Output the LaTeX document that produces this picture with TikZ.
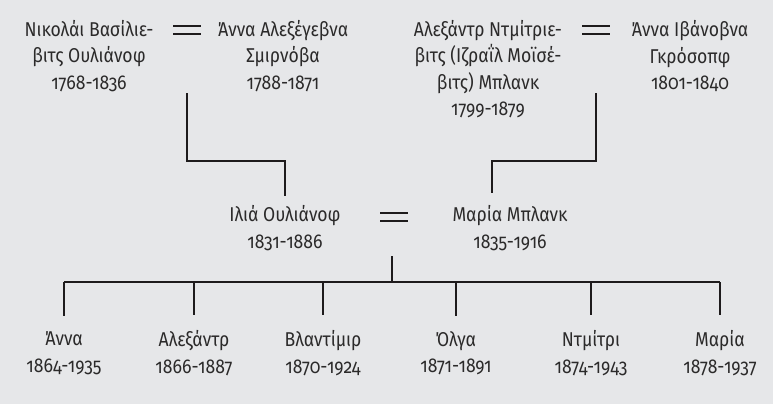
\documentclass[tikz,border=0pt]{standalone}
\usepackage{fontspec}
\setmainfont{Fira Sans}[Numbers=OldStyle, FakeStretch=0.88]
\usetikzlibrary{positioning}
\definecolor{paper}{HTML}{E6E7E9}
\definecolor{ink}{HTML}{2B2A2A}
\definecolor{rule}{HTML}{1E1B1C}

\begin{document}
\begin{tikzpicture}[x=1pt, y=-1pt]
  \tikzstyle{person}=[align=center, text=ink, inner sep=3pt,
    font=\fontsize{20}{26.5}\selectfont]
  \tikzstyle{wed}=[minimum width=27pt, minimum height=8pt, inner sep=0pt]
  \tikzstyle{line}=[draw=rule, line width=2.4pt]

  \fill[paper] (0,0) rectangle (773,404);
  \useasboundingbox (0,0) rectangle (773,404);

  % grandparents
  \node[person] (nik) at (89,56)  {Νικολάι Βασίλιε-\\βιτς Ουλιάνοφ\\1768-1836};
  \node[person] (smi) at (283,56) {Άννα Αλεξέγεβνα\\Σμιρνόβα\\1788-1871};
  \node[person] (bla) at (488,69) {Αλεξάντρ Ντμίτριε-\\βιτς (Ιζραΐλ Μοϊσέ-\\βιτς) Μπλανκ\\1799-1879};
  \node[person] (gro) at (690,56) {Άννα Ιβάνοβνα\\Γκρόσοπφ\\1801-1840};
  \node[wed] (w1) at (187,30) {};
  \node[wed] (w2) at (596,30) {};

  % parents
  \node[person] (ili) at (285,228) {Ιλιά Ουλιάνοφ\\1831-1886};
  \node[person] (mar) at (510,228) {Μαρία Μπλανκ\\1835-1916};
  \node[wed] (w3) at (394,217) {};

  % children
  \node[person] (c1) at (64,353)  {Άννα\\1864-1935};
  \node[person] (c2) at (194,353) {Αλεξάντρ\\1866-1887};
  \node[person] (c3) at (323,353) {Βλαντίμιρ\\1870-1924};
  \node[person] (c4) at (456,353) {Όλγα\\1871-1891};
  \node[person] (c5) at (591,353) {Ντμίτρι\\1874-1943};
  \node[person] (c6) at (720,353) {Μαρία\\1878-1937};
  \coordinate (fork) at (392,282);

  \foreach \w in {w1,w2,w3}
    \draw[line] (\w.north west) -- (\w.north east)
                (\w.south west) -- (\w.south east);

  \draw[line, shorten >=6pt] (w1 |- 0,93) -- (w1 |- 0,161) -| (ili.north);
  \draw[line, shorten >=9pt] (w2 |- 0,93) -- (w2 |- 0,161) -| ([xshift=-18pt]mar.north);
  \draw[line] (fork |- 0,256) -- (fork);
  \draw[line] (c1 |- fork) -- (c6 |- fork);
  \foreach \c in {c1,c2,c3,c4,c5,c6}
    \draw[line, shorten >=12pt] (\c |- fork) -- (\c.north);
\end{tikzpicture}
\end{document}
